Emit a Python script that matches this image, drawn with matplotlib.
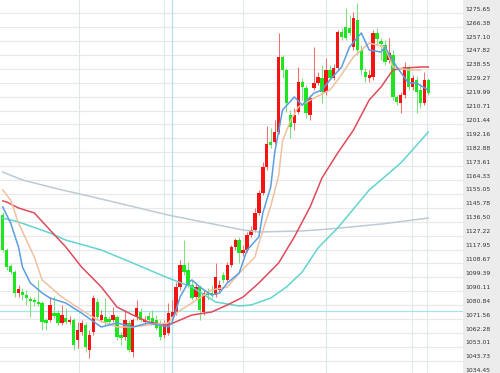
import numpy as np
import matplotlib
matplotlib.use('Agg')
import matplotlib.pyplot as plt
from matplotlib.transforms import offset_copy

# candle data (red = up, green = down)
opens = [1141.0, 1117.7, 1107.0, 1103.0, 1089.0, 1089.6, 1087.6, 1085.0, 1084.3, 1083.0,
         1082.3, 1071.0, 1071.0, 1075.6, 1075.6, 1069.0, 1072.3, 1069.6, 1071.0, 1057.6,
         1063.0, 1067.6, 1050.9, 1063.0, 1083.0, 1071.0, 1073.0, 1071.6, 1071.0, 1073.0,
         1061.0, 1059.6, 1069.0, 1049.6, 1073.0, 1076.3, 1069.6, 1073.6, 1072.3, 1071.0,
         1069.0, 1061.0, 1062.3, 1073.0, 1075.6, 1093.0, 1107.7, 1104.3, 1094.3, 1086.3,
         1093.0, 1076.3, 1089.0, 1089.0, 1087.6, 1091.0, 1101.0, 1097.7, 1107.7, 1119.7,
         1124.3, 1115.7, 1117.7, 1127.7, 1131.0, 1142.4, 1155.7, 1173.1, 1189.7, 1189.7,
         1196.4, 1246.5, 1237.8, 1207.8, 1202.4, 1209.8, 1229.8, 1225.8, 1207.8, 1225.8,
         1229.1, 1232.5, 1223.1, 1237.8, 1232.5, 1239.1, 1263.1, 1266.5, 1265.8, 1253.1,
         1271.2, 1251.1, 1236.5, 1232.5, 1233.1, 1262.5, 1257.1, 1254.5, 1244.5, 1247.8,
         1219.8, 1215.8, 1221.1, 1239.8, 1226.4, 1231.1, 1224.4, 1215.8, 1231.1]
highs = [1143.0, 1119.0, 1108.3, 1104.3, 1094.3, 1092.3, 1091.0, 1087.0, 1086.3, 1097.7,
         1083.6, 1072.3, 1086.3, 1087.0, 1077.6, 1081.0, 1079.0, 1073.6, 1072.3, 1069.6,
         1071.0, 1069.6, 1064.3, 1087.6, 1085.6, 1077.6, 1085.6, 1073.6, 1079.6, 1074.3,
         1063.0, 1077.6, 1071.0, 1072.3, 1084.3, 1079.0, 1073.6, 1076.3, 1077.6, 1074.3,
         1071.0, 1071.0, 1082.3, 1084.3, 1096.3, 1111.0, 1124.3, 1109.7, 1097.7, 1095.7,
         1094.3, 1091.0, 1092.3, 1094.3, 1109.0, 1097.7, 1103.0, 1109.7, 1121.0, 1125.7,
         1126.3, 1121.0, 1129.7, 1133.7, 1145.7, 1157.7, 1176.4, 1200.4, 1199.1, 1204.4,
         1262.5, 1247.8, 1239.1, 1211.1, 1212.4, 1239.8, 1232.5, 1227.8, 1221.1, 1253.1,
         1236.5, 1241.1, 1245.8, 1241.1, 1241.8, 1264.5, 1265.8, 1279.2, 1274.5, 1276.5,
         1282.5, 1254.5, 1239.1, 1237.8, 1264.5, 1265.8, 1259.1, 1257.8, 1259.1, 1251.1,
         1221.1, 1223.1, 1243.1, 1241.1, 1234.5, 1233.8, 1227.8, 1236.5, 1232.5]
lows = [1116.3, 1104.3, 1101.7, 1086.3, 1086.3, 1084.3, 1081.0, 1073.0, 1080.3, 1080.3,
        1064.3, 1064.3, 1069.6, 1072.3, 1067.6, 1067.6, 1068.3, 1068.3, 1050.9, 1052.3,
        1061.0, 1049.6, 1045.6, 1061.0, 1071.0, 1069.6, 1067.6, 1068.3, 1069.6, 1057.6,
        1054.3, 1057.6, 1049.6, 1046.3, 1071.0, 1069.6, 1068.3, 1069.6, 1068.3, 1064.3,
        1057.6, 1059.0, 1061.0, 1071.0, 1074.3, 1091.0, 1101.0, 1092.3, 1084.3, 1084.3,
        1071.0, 1074.3, 1084.3, 1085.6, 1086.3, 1089.6, 1095.7, 1096.3, 1106.3, 1117.7,
        1109.0, 1113.7, 1116.3, 1126.3, 1129.7, 1141.0, 1154.4, 1171.1, 1185.7, 1188.4,
        1195.1, 1232.5, 1209.8, 1192.4, 1197.8, 1208.4, 1217.8, 1205.8, 1204.4, 1224.4,
        1227.8, 1215.8, 1221.1, 1231.1, 1231.1, 1237.8, 1257.8, 1257.8, 1261.1, 1251.1,
        1247.8, 1234.5, 1229.8, 1229.8, 1231.1, 1254.5, 1244.5, 1241.1, 1242.5, 1217.8,
        1214.4, 1209.1, 1219.1, 1224.4, 1224.4, 1209.1, 1212.4, 1214.4, 1221.1]
closes = [1117.7, 1106.3, 1103.0, 1089.0, 1091.6, 1087.6, 1085.6, 1083.6, 1083.0, 1081.6,
          1069.6, 1069.0, 1081.0, 1073.6, 1069.0, 1074.3, 1069.6, 1071.0, 1054.3, 1064.3,
          1069.0, 1053.0, 1061.0, 1085.6, 1073.0, 1074.3, 1069.6, 1069.6, 1074.3, 1059.6,
          1059.0, 1071.0, 1050.9, 1071.0, 1079.0, 1071.0, 1071.0, 1071.0, 1069.6, 1065.6,
          1059.6, 1067.6, 1075.6, 1076.3, 1093.0, 1107.7, 1103.0, 1094.3, 1085.6, 1093.0,
          1077.6, 1089.0, 1087.6, 1087.6, 1099.7, 1094.3, 1097.7, 1107.7, 1119.7, 1124.3,
          1115.7, 1117.7, 1127.7, 1131.0, 1142.4, 1155.7, 1173.1, 1188.4, 1187.7, 1196.4,
          1246.5, 1237.8, 1215.8, 1199.8, 1207.8, 1229.8, 1226.4, 1209.1, 1219.1, 1229.1,
          1233.1, 1223.1, 1237.8, 1232.5, 1239.1, 1263.1, 1259.8, 1259.1, 1262.5, 1272.5,
          1251.1, 1237.8, 1233.1, 1234.5, 1262.5, 1258.5, 1255.1, 1243.1, 1249.1, 1219.8,
          1216.4, 1221.1, 1239.8, 1226.4, 1232.5, 1223.1, 1215.8, 1231.1, 1222.4]

# moving average lines, read at candle positions
ma5_x = [0, 2, 4, 5, 7, 10, 12, 16, 20, 25, 29, 33, 37, 42, 43, 45, 47, 48, 50, 53, 55, 57,
         60, 62, 65, 66, 68, 69, 71, 74, 76, 79, 81, 83, 86, 88, 91, 93, 96, 97, 100, 103, 105, 108]
ma5 = [1146.4, 1135.7, 1119.7, 1106.3, 1095.7, 1089.0, 1085.6, 1082.3, 1075.6, 1066.3, 1069.0,
       1066.3, 1069.0, 1066.3, 1069.6, 1086.3, 1095.7, 1097.7, 1093.0, 1087.6, 1089.0, 1095.7,
       1102.3, 1117.7, 1126.4, 1142.4, 1159.7, 1182.4, 1211.1, 1219.8, 1214.4, 1222.4, 1224.4,
       1231.1, 1239.8, 1253.1, 1262.5, 1251.1, 1249.8, 1253.1, 1239.8, 1229.1, 1229.1, 1224.4]
ma10_x = [0, 2, 4, 8, 10, 15, 20, 24, 29, 33, 37, 42, 44, 48, 53, 57, 60, 64, 65, 68, 70, 71,
          73, 75, 79, 83, 85, 89, 93, 97, 99, 103, 106]
ma10 = [1157.7, 1151.0, 1135.7, 1113.0, 1097.7, 1086.3, 1077.6, 1071.0, 1066.3, 1066.3, 1067.6,
        1069.0, 1075.6, 1082.3, 1091.0, 1093.0, 1102.3, 1113.0, 1122.3, 1147.0, 1167.0, 1190.4,
        1203.7, 1213.1, 1219.1, 1224.4, 1231.1, 1246.5, 1255.8, 1253.1, 1239.8, 1237.8, 1237.8]
ma20_x = [0, 1, 4, 8, 12, 16, 20, 25, 29, 33, 37, 42, 48, 53, 57, 61, 65, 70, 74, 78, 81, 85,
          89, 93, 96, 99, 102, 106, 108]
ma20 = [1150.4, 1149.7, 1145.7, 1142.4, 1131.0, 1119.7, 1106.3, 1093.0, 1079.6, 1074.3, 1069.6,
        1067.6, 1074.3, 1076.3, 1081.0, 1086.3, 1095.7, 1109.0, 1126.4, 1146.4, 1165.7, 1182.4,
        1197.7, 1217.8, 1226.4, 1237.8, 1239.1, 1239.8, 1239.8]
ma60_x = [0, 2, 4, 12, 16, 25, 33, 39, 42, 48, 54, 60, 63, 68, 72, 76, 80, 85, 93, 101, 108]
ma60 = [1139.0, 1137.7, 1136.4, 1129.0, 1124.3, 1117.7, 1109.0, 1102.3, 1099.0, 1093.0, 1083.0,
        1080.3, 1081.0, 1085.6, 1093.0, 1103.0, 1119.0, 1132.4, 1157.7, 1175.7, 1196.4]
ma120_x = [0, 5, 14, 25, 42, 61, 65, 76, 83, 96, 108]
ma120 = [1169.7, 1164.4, 1158.4, 1151.7, 1141.0, 1131.0, 1129.7, 1130.4, 1131.7, 1135.0, 1139.0]

tick_labels = ['1275.65', '1266.38', '1257.10', '1247.82', '1238.55', '1229.27', '1219.99',
               '1210.71', '1201.44', '1192.16', '1182.88', '1173.61', '1164.33', '1155.05',
               '1145.78', '1136.50', '1127.22', '1117.95', '1108.67', '1099.39', '1090.11',
               '1080.84', '1071.56', '1062.28', '1053.01', '1043.73', '1034.45']
ref_price = 1077.0

fig = plt.figure(figsize=(5, 3.73), dpi=100)
ax = fig.add_axes([0, 0, 463 / 500, 1])
panel = fig.add_axes([463 / 500, 0, 37 / 500, 1])

ax.set_xlim(-0.7, 116.8)
ax.set_ylim(1035.6, 1284.5)
ax.axis('off')

tick_vals = [float(t) for t in tick_labels]
for v in tick_vals:
    ax.axhline(v, color='#e9e9e9', lw=0.9, zorder=0)
for xv in [19.4, 40.9, 61.0, 82.1, 103.9, 107.7]:
    ax.axvline(xv, color='#dde9e9', lw=0.8, zorder=0)
ax.axvline(43.0, color='#b3e2ea', lw=0.9, zorder=0)
ax.axhline(ref_price, color='#a8e2ea', lw=0.9, zorder=1)

o = np.array(opens)
h = np.array(highs)
l = np.array(lows)
c = np.array(closes)
idx = np.arange(len(o))
up = c >= o
body_col = np.where(up, '#f51414', '#1ee61e')
wick_col = np.where(up, '#f07070', '#80e080')
ax.vlines(idx, l, h, colors=wick_col, lw=0.75, zorder=2)
bottom = np.minimum(o, c)
height = np.maximum(np.abs(c - o), 0.8)
ax.bar(idx, height, bottom=bottom, width=0.86, color=body_col, zorder=3)

ax.plot(ma120_x, ma120, color='#bccbd6', lw=1.1, zorder=4)
ax.plot(ma60_x, ma60, color='#62d4d0', lw=1.1, zorder=4)
ax.plot(ma20_x, ma20, color='#e04a5a', lw=1.1, zorder=4)
ax.plot(ma10_x, ma10, color='#f0c0a0', lw=1.1, zorder=4)
ax.plot(ma5_x, ma5, color='#5a9ee0', lw=1.1, zorder=4)

panel.set_facecolor('#ececec')
panel.set_xlim(0, 1)
panel.set_ylim(1035.6, 1284.5)
panel.set_xticks([])
panel.set_yticks([])
for s in panel.spines.values():
    s.set_visible(False)
trans = offset_copy(panel.transData, fig=fig, x=0, y=4, units='dots')
for lab, v in zip(tick_labels, tick_vals):
    panel.text(0.07, v, lab, transform=trans, fontsize=4.4, color='#333333', va='center', ha='left')

fig.savefig('out.png', dpi=100)
